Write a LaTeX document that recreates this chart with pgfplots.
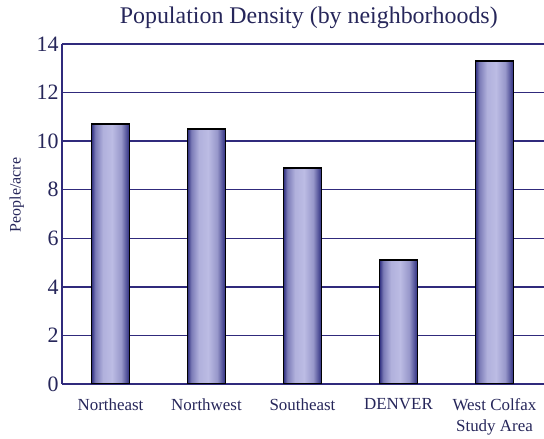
\documentclass[border=0pt]{standalone}
\usepackage{fontspec}
\setmainfont{Liberation Serif}
\usepackage{pgfplots}
\pgfplotsset{compat=1.18}

\definecolor{navytext}{HTML}{26265A}
\definecolor{gridblue}{HTML}{302A7C}
\definecolor{bardark}{HTML}{2C2C7E}
\definecolor{barlight}{HTML}{BCBCE4}

% cylinder-like gradient across each bar (bar spans 25bp..75bp)
\pgfdeclarehorizontalshading{barshade}{100bp}{%
  color(0bp)=(bardark); color(25bp)=(bardark);
  color(30bp)=(barlight!55!bardark);
  color(40bp)=(barlight!92!bardark); color(52bp)=(barlight);
  color(64bp)=(barlight!75!bardark);
  color(75bp)=(bardark); color(100bp)=(bardark)}

\pgfplotsset{cylbar/.style={draw=black, line width=1.5bp, shade, shading=barshade}}

\begin{document}
\begin{tikzpicture}[x=1bp,y=1bp]
% fixed page extent around the plot box
\path[use as bounding box] (-62,-55) rectangle (482,384);
\begin{axis}[
  at={(0,0)}, anchor=south west,
  scale only axis, width=482bp, height=340bp,
  xmin=-0.505, xmax=4.516, ymin=0, ymax=14,
  axis x line=bottom, axis y line=left,
  axis line style={-, gridblue, line width=1.5bp},
  ytick={0,2,...,14},
  xtick={0,1,2,3,4},
  xticklabels={Northeast,Northwest,Southeast,DENVER,{West Colfax\\Study Area}},
  major tick length=0pt,
  tick style={draw=none},
  /pgf/number format/assume math mode=true,
  xticklabel style={align=center, font=\fontsize{17}{21}\selectfont, text=navytext, yshift=-11bp},
  yticklabel style={font=\fontsize{22}{24}\selectfont, text=navytext},
  ymajorgrids,
  grid style={gridblue, line width=1.5bp},
  title={Population Density (by neighborhoods)},
  title style={font=\fontsize{24}{26}\selectfont, text=navytext,
    at={(axis description cs:0.512,1)}, anchor=base, yshift=15bp},
  ylabel={People/acre},
  ylabel style={font=\fontsize{16}{18}\selectfont, text=navytext,
    at={(axis description cs:-0.094,0.556)}, anchor=center},
  ybar, bar width=38bp, bar shift=0pt,
]
% one plot per neighborhood so each bar gets its own gradient
\addplot[cylbar] coordinates {(0,10.7)};
\addplot[cylbar] coordinates {(1,10.5)};
\addplot[cylbar] coordinates {(2,8.9)};
\addplot[cylbar] coordinates {(3,5.1)};
\addplot[cylbar] coordinates {(4,13.3)};
\end{axis}
\end{tikzpicture}
\end{document}
